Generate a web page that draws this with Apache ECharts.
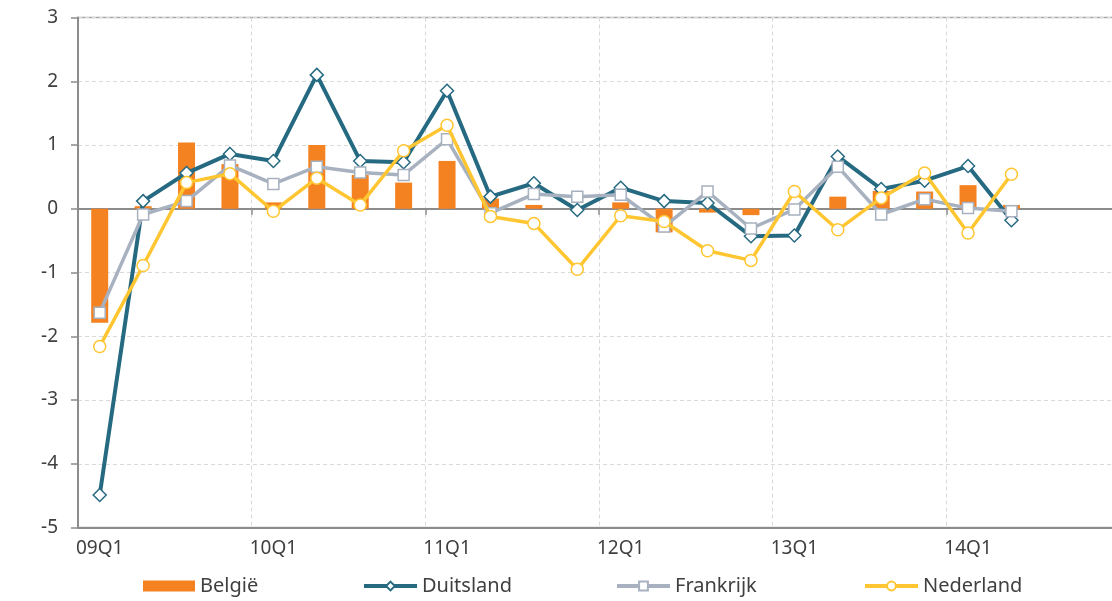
<!DOCTYPE html>
<html>
<head>
<meta charset="utf-8">
<script src="https://cdn.jsdelivr.net/npm/echarts@6/dist/echarts.min.js"></script>
<style>html,body{margin:0;padding:0;background:#fff}#c{width:1112px;height:601px}</style>
</head>
<body>
<div id="c"></div>
<script>
const categories = ['09Q1','09Q2','09Q3','09Q4','10Q1','10Q2','10Q3','10Q4','11Q1','11Q2','11Q3','11Q4','12Q1','12Q2','12Q3','12Q4','13Q1','13Q2','13Q3','13Q4','14Q1','14Q2','14Q3','14Q4'];
const belgie =     [-1.79, 0.04, 1.04, 0.70, 0.10, 1.00, 0.53, 0.41, 0.75, 0.16, 0.06, 0.00, 0.10, -0.37, -0.06, -0.10, 0.00, 0.19, 0.28, 0.27, 0.37, 0.06];
const duitsland =  [-4.49, 0.12, 0.56, 0.86, 0.75, 2.10, 0.75, 0.73, 1.85, 0.19, 0.40, -0.02, 0.33, 0.12, 0.09, -0.43, -0.42, 0.82, 0.31, 0.44, 0.67, -0.18];
const frankrijk =  [-1.63, -0.09, 0.12, 0.68, 0.39, 0.66, 0.57, 0.53, 1.09, -0.07, 0.23, 0.19, 0.22, -0.28, 0.27, -0.31, -0.01, 0.66, -0.09, 0.15, 0.01, -0.04];
const nederland =  [-2.16, -0.89, 0.41, 0.55, -0.04, 0.48, 0.06, 0.91, 1.31, -0.12, -0.23, -0.95, -0.11, -0.20, -0.66, -0.81, 0.27, -0.33, 0.17, 0.56, -0.38, 0.54];
const yTicks = [-5, -4, -3, -2, -1, 0, 1, 2, 3];

const FONT = '"Noto Sans", "Open Sans", sans-serif';
const TXT = '#404040';
const AX = '#8c8c8c';
const C_BE = '#F58220', C_DE = '#266A82', C_FR = '#A7B1BF', C_NL = '#FFC632';

const chart = echarts.init(document.getElementById('c'), null, {renderer: 'canvas'});
const legendBase = {
  orient: 'horizontal', top: 576, padding: 0, itemWidth: 53, itemHeight: 11,
  textStyle: {fontFamily: FONT, fontSize: 20, color: TXT}, selectedMode: false,
  lineStyle: {width: 4}
};
chart.setOption({
  animation: false,
  backgroundColor: '#fff',
  grid: {left: 78, top: 17.5, width: 1042, height: 510, outerBoundsMode: 'none', containLabel: false,
         show: true, borderColor: '#a6a6a6', borderWidth: 1.5, backgroundColor: 'transparent'},
  legend: [
    Object.assign({}, legendBase, {left: 143, data: [{name: 'België', icon: 'rect'}], itemHeight: 11, itemWidth: 52}),
    Object.assign({}, legendBase, {left: 362, data: ['Duitsland']}),
    Object.assign({}, legendBase, {left: 615, data: ['Frankrijk']}),
    Object.assign({}, legendBase, {left: 863, data: ['Nederland']})
  ],
  xAxis: [
    {
      type: 'category', data: categories, position: 'bottom', boundaryGap: true,
      axisLine: {onZero: false, lineStyle: {color: AX, width: 2}},
      axisTick: {show: false},
      axisLabel: {interval: 3, margin: 12, fontFamily: FONT, fontSize: 19, color: TXT},
      splitLine: {show: false}
    },
    {
      type: 'category', data: categories, position: 'top', boundaryGap: true,
      axisLine: {onZero: true, lineStyle: {color: AX, width: 2}},
      axisTick: {show: true, inside: true, length: 6, interval: 3, lineStyle: {color: AX, width: 1.5}},
      axisLabel: {show: false},
      splitLine: {show: true, interval: 3, lineStyle: {color: '#d9d9d9', type: [4, 3], width: 1}}
    }
  ],
  yAxis: {
    type: 'value', min: yTicks[0], max: yTicks[yTicks.length - 1], interval: 1,
    axisLine: {show: true, lineStyle: {color: AX, width: 2}},
    axisTick: {show: true, length: 7, lineStyle: {color: AX, width: 1.5}},
    axisLabel: {margin: 20, fontFamily: FONT, fontSize: 19, color: TXT},
    splitLine: {show: true, lineStyle: {color: '#d9d9d9', type: [4, 3], width: 1}}
  },
  series: [
    {name: 'België', type: 'bar', data: belgie, barWidth: 17, itemStyle: {color: C_BE}, z: 1},
    {name: 'Duitsland', type: 'line', data: duitsland, symbol: 'diamond', symbolSize: 13, z: 2,
     lineStyle: {color: C_DE, width: 4}, itemStyle: {color: '#fff', borderColor: C_DE, borderWidth: 1.5}},
    {name: 'Frankrijk', type: 'line', data: frankrijk, symbol: 'rect', symbolSize: 11, z: 3,
     lineStyle: {color: C_FR, width: 3.5}, itemStyle: {color: '#fff', borderColor: C_FR, borderWidth: 1.5}},
    {name: 'Nederland', type: 'line', data: nederland, symbol: 'circle', symbolSize: 12, z: 4,
     lineStyle: {color: C_NL, width: 3.5}, itemStyle: {color: '#fff', borderColor: C_NL, borderWidth: 1.5}}
  ]
});
</script>
</body>
</html>
